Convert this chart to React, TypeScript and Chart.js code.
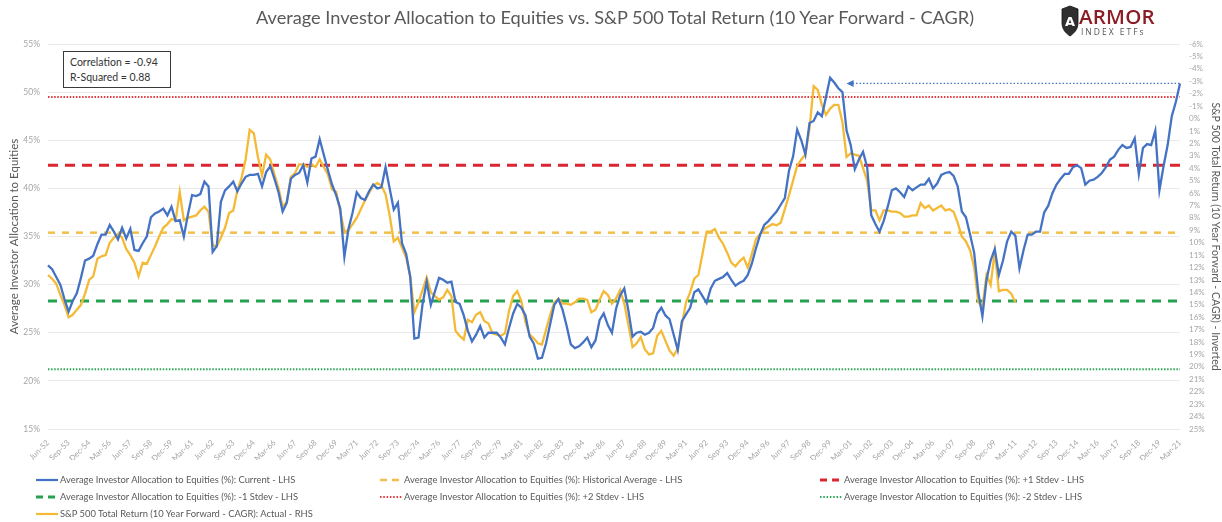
import React, { useEffect, useRef } from "react";
import { Chart, registerables } from "chart.js";

Chart.register(...registerables);

// ---------- data ----------
const MONTHS = ["Mar", "Jun", "Sep", "Dec"];
const START_YEAR = 1952;
const QUARTER_COUNT = 276; // Jun-52 .. Mar-21
const CATEGORIES: string[] = Array.from({ length: QUARTER_COUNT }, (_, i) => {
  const q = i + 1;
  const y = START_YEAR + Math.floor(q / 4);
  return `${MONTHS[q % 4]}-${String(y % 100).padStart(2, "0")}`;
});

const X_TICK_LABELS = [
  "Jun-52", "Sep-53", "Dec-54", "Mar-56", "Jun-57", "Sep-58", "Dec-59", "Mar-61", "Jun-62", "Sep-63",
  "Dec-64", "Mar-66", "Jun-67", "Sep-68", "Dec-69", "Mar-71", "Jun-72", "Sep-73", "Dec-74", "Mar-76",
  "Jun-77", "Sep-78", "Dec-79", "Mar-81", "Jun-82", "Sep-83", "Dec-84", "Mar-86", "Jun-87", "Sep-88",
  "Dec-89", "Mar-91", "Jun-92", "Sep-93", "Dec-94", "Mar-96", "Jun-97", "Sep-98", "Dec-99", "Mar-01",
  "Jun-02", "Sep-03", "Dec-04", "Mar-06", "Jun-07", "Sep-08", "Dec-09", "Mar-11", "Jun-12", "Sep-13",
  "Dec-14", "Mar-16", "Jun-17", "Sep-18", "Dec-19", "Mar-21",
];

// Average Investor Allocation to Equities (%) – LHS
const ALLOCATION_CURRENT = [
  32.0, 31.6, 30.8, 30.0, 28.5, 27.2, 28.3, 29.1, 30.7, 32.5,
  32.7, 33.0, 34.2, 35.2, 35.2, 36.2, 35.5, 34.7, 35.9, 34.8,
  35.8, 33.6, 33.5, 34.3, 35.0, 37.0, 37.4, 37.6, 37.9, 37.2,
  38.1, 36.6, 36.7, 35.0, 37.3, 39.3, 39.2, 39.4, 40.7, 40.2,
  33.4, 34.0, 38.6, 39.8, 40.2, 40.7, 39.7, 40.5, 41.2, 41.4,
  41.4, 41.5, 40.2, 41.7, 42.3, 41.0, 39.6, 37.6, 38.5, 41.0,
  41.4, 41.6, 42.4, 40.6, 43.1, 43.3, 45.1, 43.5, 41.9, 40.4,
  39.3, 37.9, 32.9, 35.8, 37.5, 39.6, 39.0, 38.8, 39.7, 40.4,
  40.0, 40.1, 42.2, 40.0, 37.8, 38.5, 34.3, 33.2, 30.8, 24.4,
  24.5, 28.0, 30.3, 27.9, 29.3, 30.7, 30.5, 30.2, 30.3, 28.2,
  28.0, 26.8, 25.2, 24.1, 24.8, 25.7, 24.5, 25.0, 25.0, 25.0,
  24.5, 23.8, 25.5, 27.0, 28.0, 27.6, 26.8, 24.6, 23.9, 22.3,
  22.4, 23.9, 25.9, 27.9, 28.5, 27.4, 25.7, 23.8, 23.4, 23.6,
  24.0, 24.5, 23.5, 24.2, 26.3, 27.0, 25.8, 25.0, 27.5, 28.9,
  29.6, 27.3, 24.6, 25.0, 25.1, 24.8, 25.0, 25.5, 27.0, 27.6,
  26.8, 26.4, 24.8, 23.2, 26.2, 26.9, 27.6, 29.2, 29.5, 28.8,
  28.1, 29.6, 30.4, 30.6, 30.8, 31.2, 30.5, 29.9, 30.2, 30.4,
  31.0, 32.2, 33.8, 35.2, 36.2, 36.6, 37.1, 37.6, 38.3, 39.0,
  41.8, 43.3, 46.1, 45.0, 43.5, 46.8, 47.0, 47.9, 47.5, 49.5,
  51.5, 51.0, 50.4, 50.0, 46.0, 44.5, 42.0, 43.0, 43.8, 42.2,
  37.2, 36.3, 35.5, 36.6, 38.1, 39.8, 40.0, 39.6, 39.1, 40.2,
  39.8, 40.1, 40.4, 40.4, 41.0, 40.0, 40.5, 41.4, 41.6, 41.7,
  41.3, 40.2, 37.6, 37.0, 35.2, 33.3, 29.2, 26.7, 30.5, 32.5,
  33.7, 31.0, 32.5, 34.5, 35.5, 35.1, 31.7, 33.6, 35.2, 35.2,
  35.5, 35.5, 37.5, 38.2, 39.5, 40.4, 41.0, 41.5, 41.5, 42.2,
  42.4, 42.1, 40.4, 40.8, 40.9, 41.2, 41.6, 42.2, 43.0, 43.3,
  44.0, 44.5, 44.2, 44.3, 45.2, 41.5, 44.2, 44.6, 44.5, 46.0,
  39.8, 42.3, 44.5, 47.5, 49.0, 50.9,
];

// S&P 500 Total Return (10 Year Forward - CAGR), % – RHS (inverted)
const SP500_FWD_CAGR = [
  12.6, 12.9, 13.3, 14.2, 15.0, 16.0, 15.8, 15.4, 15.0, 14.1,
  13.0, 12.7, 11.3, 11.1, 11.0, 10.0, 9.6, 9.3, 9.6, 10.5,
  11.0, 11.6, 12.7, 11.6, 11.7, 11.0, 10.3, 9.5, 8.8, 8.5,
  8.1, 8.2, 5.9, 8.2, 8.0, 7.9, 7.8, 7.4, 7.1, 7.5,
  10.2, 10.3, 9.6, 8.8, 7.6, 7.4, 5.8, 4.8, 3.3, 0.9,
  1.2, 3.1, 4.6, 2.9, 3.3, 4.5, 5.6, 7.1, 6.7, 4.7,
  4.4, 3.7, 3.7, 3.9, 3.7, 3.9, 3.3, 3.9, 4.5, 5.7,
  5.9, 7.5, 9.1, 9.0, 8.5, 8.0, 7.3, 6.6, 6.0, 5.4,
  5.2, 5.4, 6.1, 7.8, 9.9, 9.6, 10.4, 11.2, 12.7, 15.6,
  14.8, 13.8, 12.8, 14.0, 14.3, 14.6, 14.4, 13.8, 14.3, 17.1,
  17.5, 17.8, 16.2, 16.4, 15.8, 15.6, 16.3, 16.5, 17.3, 17.4,
  17.5, 17.3, 15.5, 14.3, 13.9, 14.7, 16.4, 17.4, 17.7, 18.1,
  18.2, 17.0, 15.8, 14.8, 14.5, 14.9, 14.9, 15.0, 14.8, 14.5,
  14.5, 14.6, 15.6, 15.4, 14.6, 13.9, 14.2, 14.9, 14.5, 13.8,
  14.9, 16.6, 18.4, 18.1, 17.6, 18.6, 19.0, 18.9, 17.5, 17.1,
  17.9, 18.7, 19.1, 18.5, 16.6, 14.8, 14.0, 12.9, 12.6, 10.9,
  9.1, 9.1, 8.9, 9.6, 10.1, 10.8, 11.6, 11.9, 11.5, 11.2,
  12.0, 10.9, 9.7, 9.3, 8.9, 8.7, 8.5, 8.6, 8.4, 7.3,
  6.2, 5.0, 3.8, 3.3, 2.9, 0.8, -2.6, -2.3, -1.1, -0.3,
  -0.8, -1.1, -1.1, 0.3, 3.1, 2.8, 2.9, 3.0, 4.0, 5.0,
  7.4, 7.4, 8.2, 7.4, 7.4, 7.5, 7.5, 7.6, 7.9, 7.9,
  7.8, 7.8, 6.8, 7.2, 7.0, 7.4, 7.2, 7.0, 7.4, 7.3,
  7.5, 8.4, 9.5, 9.9, 10.6, 12.0, 14.8, 15.2, 12.6, 13.4,
  10.7, 13.9, 13.8, 13.8, 14.1, 14.8,
];

// Reference levels (LHS, %)
const HISTORICAL_AVERAGE = 35.4;
const PLUS_1_STDEV = 42.4;
const MINUS_1_STDEV = 28.3;
const PLUS_2_STDEV = 49.5;
const MINUS_2_STDEV = 21.2;

const LEFT_MIN = 15;
const LEFT_MAX = 55;
const RIGHT_MIN = -6;
const RIGHT_MAX = 25;

const ARROW_START_INDEX = 194;

const CORRELATION_TEXT = ["Correlation = -0.94", "R-Squared = 0.88"];

const TITLE = "Average Investor Allocation to Equities vs. S&P 500 Total Return (10 Year Forward - CAGR)";
const LEFT_AXIS_TITLE = "Average Investor Allocation to Equities";
const RIGHT_AXIS_TITLE = "S&P 500 Total Return (10 Year Forward - CAGR) - Inverted";

// ---------- styles ----------
const BLUE = "#4472C4";
const GOLD = "#F4BA35";
const GOLD_DASH = "#F2C04A";
const RED = "#D92630";
const RED_DOT = "#E0383E";
const GREEN = "#26A150";
const GREEN_DOT = "#2EA65A";
const TEXT = "#595959";
const TICK = "#a6a6a6";
const FONT = "Lato, 'Open Sans', sans-serif";

type LegendItem = { text: string; color: string; dash: number[]; width: number; col: number; row: number };
const LEGEND_ITEMS: LegendItem[] = [
  { text: "Average Investor Allocation to Equities (%): Current - LHS", color: BLUE, dash: [], width: 2.2, col: 0, row: 0 },
  { text: "Average Investor Allocation to Equities (%): Historical Average - LHS", color: GOLD_DASH, dash: [7, 5], width: 2.5, col: 1, row: 0 },
  { text: "Average Investor Allocation to Equities (%): +1 Stdev - LHS", color: RED, dash: [7, 5], width: 2.8, col: 2, row: 0 },
  { text: "Average Investor Allocation to Equities (%): -1 Stdev - LHS", color: GREEN, dash: [7, 5], width: 2.8, col: 0, row: 1 },
  { text: "Average Investor Allocation to Equities (%): +2 Stdev - LHS", color: RED_DOT, dash: [1.5, 1.8], width: 1.8, col: 1, row: 1 },
  { text: "Average Investor Allocation to Equities (%): -2 Stdev - LHS", color: GREEN_DOT, dash: [1.5, 1.8], width: 1.8, col: 2, row: 1 },
  { text: "S&P 500 Total Return (10 Year Forward - CAGR): Actual - RHS", color: GOLD, dash: [], width: 2.2, col: 0, row: 2 },
];
const LEGEND_COL_X = [36, 380, 820];
const LEGEND_ROW_Y = [480, 497, 514];

const refLine = (label: string, value: number, color: string, dash: number[], width: number) => ({
  label,
  data: [
    { x: CATEGORIES[0], y: value },
    { x: CATEGORIES[CATEGORIES.length - 1], y: value },
  ],
  borderColor: color,
  borderDash: dash,
  borderWidth: width,
  pointRadius: 0,
  yAxisID: "y",
  order: 5,
});

const arrowPlugin = {
  id: "arrowAnnotation",
  afterDatasetsDraw(chart: any) {
    const { ctx, scales } = chart;
    const last = ALLOCATION_CURRENT.length - 1;
    const y = scales.y.getPixelForValue(ALLOCATION_CURRENT[last]);
    const x1 = scales.x.getPixelForValue(ARROW_START_INDEX);
    const x2 = scales.x.getPixelForValue(last);
    ctx.save();
    ctx.strokeStyle = BLUE;
    ctx.lineWidth = 1.3;
    ctx.setLineDash([1.5, 2]);
    ctx.beginPath();
    ctx.moveTo(x1 + 6, y);
    ctx.lineTo(x2, y);
    ctx.stroke();
    ctx.setLineDash([]);
    ctx.fillStyle = BLUE;
    ctx.beginPath();
    ctx.moveTo(x1, y);
    ctx.lineTo(x1 + 7, y - 3.5);
    ctx.lineTo(x1 + 7, y + 3.5);
    ctx.closePath();
    ctx.fill();
    ctx.restore();
  },
};

function LegendSample({ item }: { item: LegendItem }) {
  return (
    <svg width={24} height={8} style={{ position: "absolute", left: 0, top: -4 }}>
      <line
        x1={0}
        y1={4}
        x2={item.dash.length && item.dash[0] > 3 ? 19 : 22}
        y2={4}
        stroke={item.color}
        strokeWidth={item.width}
        strokeDasharray={item.dash.length ? item.dash.join(",") : undefined}
      />
    </svg>
  );
}

export default function App() {
  const canvasRef = useRef<HTMLCanvasElement | null>(null);

  useEffect(() => {
    const canvas = canvasRef.current;
    if (!canvas) return;
    const tickSet = new Set(X_TICK_LABELS);
    const chart = new Chart(canvas, {
      type: "line",
      data: {
        labels: CATEGORIES,
        datasets: [
          {
            label: "Average Investor Allocation to Equities (%): Current - LHS",
            data: ALLOCATION_CURRENT,
            borderColor: BLUE,
            borderWidth: 2.3,
            pointRadius: 0,
            tension: 0,
            yAxisID: "y",
            order: 0,
          },
          {
            label: "S&P 500 Total Return (10 Year Forward - CAGR): Actual - RHS",
            data: SP500_FWD_CAGR,
            borderColor: GOLD,
            borderWidth: 2.3,
            pointRadius: 0,
            tension: 0,
            yAxisID: "y1",
            order: 1,
          },
          refLine("Historical Average", HISTORICAL_AVERAGE, GOLD_DASH, [7, 7], 2.5),
          refLine("+1 Stdev", PLUS_1_STDEV, RED, [10, 7], 3),
          refLine("-1 Stdev", MINUS_1_STDEV, GREEN, [9, 7], 3),
          refLine("+2 Stdev", PLUS_2_STDEV, RED_DOT, [1.5, 1.6], 2),
          refLine("-2 Stdev", MINUS_2_STDEV, GREEN_DOT, [1.5, 1.6], 2),
        ] as any,
      },
      options: {
        animation: false,
        responsive: false,
        devicePixelRatio: 1,
        events: [],
        layout: { padding: { top: 44, bottom: 62, left: 0, right: 0 } },
        plugins: { legend: { display: false }, title: { display: false }, tooltip: { enabled: false } },
        scales: {
          x: {
            type: "category",
            grid: { display: false },
            border: { display: false },
            ticks: {
              autoSkip: false,
              maxRotation: 45,
              minRotation: 45,
              padding: 1,
              color: TICK,
              font: { size: 8, family: FONT },
              callback: (_v: any, i: number) => (tickSet.has(CATEGORIES[i]) ? CATEGORIES[i] : ""),
            },
            afterFit: (s: any) => {
              s.height = 31;
            },
          },
          y: {
            position: "left",
            min: LEFT_MIN,
            max: LEFT_MAX,
            ticks: {
              stepSize: 5,
              padding: 8,
              color: TICK,
              font: { size: 8.5, family: FONT },
              callback: (v: any) => `${v}%`,
            },
            grid: { color: "#e9e9e9", drawTicks: false, lineWidth: 1 },
            border: { display: false },
            title: {
              display: true,
              text: LEFT_AXIS_TITLE,
              color: TEXT,
              font: { size: 11.5, family: FONT },
              padding: { top: 7, bottom: 0 },
            },
            afterFit: (s: any) => {
              s.width = 48;
            },
          },
          y1: {
            position: "right",
            reverse: true,
            min: RIGHT_MIN,
            max: RIGHT_MAX,
            ticks: {
              stepSize: 1,
              autoSkip: false,
              padding: 9,
              color: TICK,
              font: { size: 8, family: FONT },
              callback: (v: any) => `${v}%`,
            },
            grid: { display: false, drawTicks: false },
            border: { display: false },
            title: {
              display: true,
              text: RIGHT_AXIS_TITLE,
              color: TEXT,
              font: { size: 10.5, family: FONT },
              padding: { top: 0, bottom: 2 },
            },
            afterFit: (s: any) => {
              s.width = 42;
            },
          },
        },
      } as any,
      plugins: [arrowPlugin],
    });
    return () => chart.destroy();
  }, []);

  return (
    <div style={{ position: "fixed", left: 0, top: 0, width: 1222, height: 522, background: "#fff", overflow: "hidden", fontFamily: FONT }}>
      <canvas ref={canvasRef} width={1222} height={522} style={{ position: "absolute", left: 0, top: 0 }} />
      <div
        style={{
          position: "absolute",
          left: 0,
          width: 1230,
          top: 6,
          textAlign: "center",
          fontSize: 18.2,
          color: TEXT,
          whiteSpace: "nowrap",
        }}
      >
        {TITLE}
      </div>
      {/* logo */}
      <svg width={18} height={32} style={{ position: "absolute", left: 1061, top: 5 }} viewBox="0 0 18 32">
        <path d="M9 1 L17 4 L17 18 C17 25 12 29 9 31 C6 29 1 25 1 18 L1 4 Z" fill="#2f2f2f" stroke="#111" strokeWidth={0.8} />
        <text x={9} y={21} textAnchor="middle" fontSize={13} fontWeight={700} fill="#ffffff" fontFamily="DejaVu Sans, sans-serif">A</text>
      </svg>
      <div style={{ position: "absolute", left: 1079, top: 5, fontSize: 20.5, lineHeight: "22px", color: "#8c1d24", fontFamily: "'Open Sans', sans-serif", fontWeight: 600, letterSpacing: 0.2 }}>
        ARMOR
      </div>
      <div style={{ position: "absolute", left: 1081, top: 27, fontSize: 8.5, lineHeight: "9px", color: "#555", fontFamily: "'Open Sans', sans-serif", letterSpacing: 2 }}>
        INDEX ETFs
      </div>
      {/* correlation box */}
      <div
        style={{
          position: "absolute",
          left: 63,
          top: 51,
          width: 108,
          height: 37,
          border: "1px solid #3a3a3a",
          boxSizing: "border-box",
          background: "#fff",
          padding: "3px 0 0 6px",
          fontSize: 10.5,
          lineHeight: "15px",
          color: "#333",
        }}
      >
        {CORRELATION_TEXT.map((t) => (
          <div key={t}>{t}</div>
        ))}
      </div>
      {/* legend */}
      {LEGEND_ITEMS.map((item) => (
        <div
          key={item.text}
          style={{
            position: "absolute",
            left: LEGEND_COL_X[item.col],
            top: LEGEND_ROW_Y[item.row],
            height: 0,
            whiteSpace: "nowrap",
          }}
        >
          <LegendSample item={item} />
          <span style={{ position: "absolute", left: 24, top: -7, fontSize: 9.4, lineHeight: "13px", color: TEXT }}>{item.text}</span>
        </div>
      ))}
    </div>
  );
}
